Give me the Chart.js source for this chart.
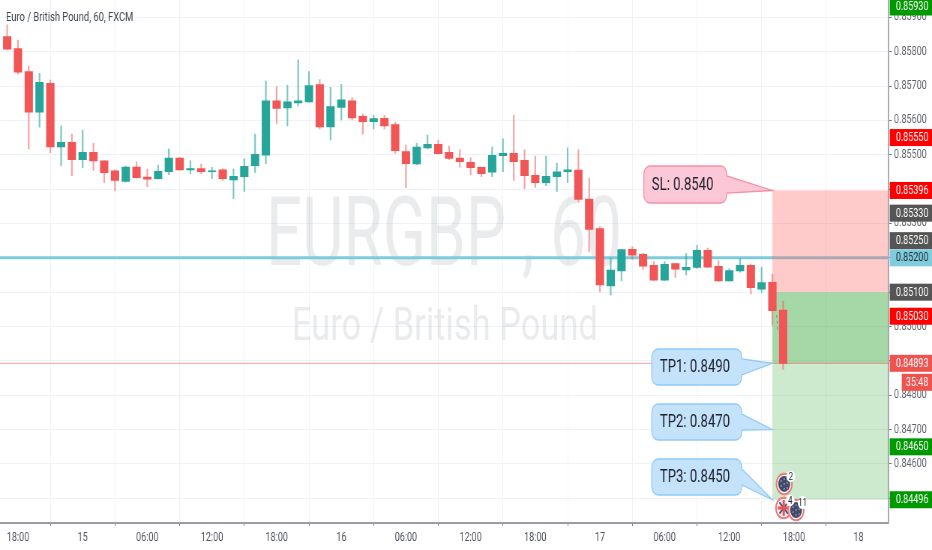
<!DOCTYPE html>
<html>
<head>
<meta charset="utf-8">
<style>
html,body{margin:0;padding:0;background:#fff;overflow:hidden}
#wrap{width:932px;height:550px;overflow:hidden;position:relative}
canvas{position:absolute;left:0;top:0;transform-origin:0 0;filter:blur(0.3px)}
</style>
<script src="https://cdn.jsdelivr.net/npm/chart.js@4"></script>
</head>
<body>
<div id="wrap"><canvas id="c"></canvas></div>
<script>
// ---- candle data ----
const opens = [.85844,.85809,.85742,.85624,.85708,.85523,.85536,.85486,.85507,.85482,.85453,.85422,.85464,.85435,.85430,.85451,.85490,.85456,.85460,.85451,.85456,.85427,.85436,.85468,.85499,.85657,.85636,.85651,.85654,.85704,.85581,.85638,.85657,.85612,.85596,.85606,.85588,.85509,.85473,.85520,.85530,.85507,.85490,.85478,.85463,.85449,.85497,.85504,.85484,.85440,.85419,.85436,.85451,.85455,.85371,.85285,.85118,.85162,.85225,.85210,.85178,.85135,.85183,.85165,.85172,.85222,.85175,.85133,.85162,.85178,.85109,.85129,.85048];
const highs = [.85878,.85834,.85758,.85737,.85717,.85584,.85560,.85572,.85533,.85482,.85456,.85467,.85479,.85458,.85470,.85517,.85492,.85482,.85473,.85463,.85460,.85458,.85488,.85560,.85714,.85698,.85702,.85776,.85742,.85719,.85696,.85705,.85667,.85619,.85615,.85615,.85595,.85528,.85533,.85557,.85543,.85525,.85514,.85491,.85464,.85522,.85546,.85615,.85514,.85496,.85496,.85476,.85520,.85514,.85432,.85291,.85200,.85225,.85232,.85213,.85189,.85189,.85184,.85213,.85236,.85228,.85191,.85169,.85198,.85182,.85172,.85152,.85074];
const lows = [.85805,.85735,.85517,.85580,.85506,.85468,.85439,.85462,.85454,.85419,.85395,.85420,.85432,.85407,.85429,.85442,.85455,.85445,.85445,.85430,.85425,.85372,.85393,.85448,.85474,.85591,.85584,.85642,.85653,.85575,.85543,.85601,.85601,.85560,.85575,.85575,.85504,.85404,.85471,.85517,.85502,.85486,.85464,.85442,.85436,.85436,.85451,.85425,.85401,.85405,.85410,.85393,.85419,.85361,.85218,.85101,.85092,.85133,.85195,.85166,.85134,.85134,.85143,.85150,.85169,.85172,.85132,.85132,.85158,.85095,.85099,.85004,.84875];
const closes = [.85807,.85740,.85624,.85711,.85523,.85536,.85486,.85507,.85482,.85448,.85425,.85464,.85433,.85429,.85452,.85490,.85456,.85460,.85451,.85453,.85430,.85437,.85466,.85501,.85657,.85635,.85654,.85657,.85701,.85581,.85640,.85660,.85607,.85596,.85605,.85584,.85512,.85474,.85522,.85530,.85503,.85489,.85480,.85462,.85445,.85498,.85504,.85480,.85439,.85419,.85437,.85450,.85456,.85370,.85283,.85121,.85164,.85224,.85208,.85176,.85135,.85181,.85167,.85172,.85222,.85173,.85133,.85163,.85178,.85113,.85128,.85046,.84893];

// ---- axes ----
const xTickIndex = [1,7,13,19,25,31,37,43,49,55,61,67,73,79];
const xTickLabels = ['18:00','15','06:00','12:00','18:00','16','06:00','12:00','18:00','17','06:00','12:00','18:00','18'];
const yTickValues = [.859,.858,.857,.856,.855,.854,.853,.852,.851,.850,.849,.848,.847,.846,.845];

// ---- lines, zones, badges, callouts ----
const levelLine = .852;
const lastPrice = .84893;
const zoneStart = 71;
const zoneBounds = [.85396,.851,.84893,.84496];
const badgeValues = [.8593,.8555,.85396,.8533,.8525,.852,.851,.8503,.84893,.8465,.84496];
const badgeColors = ['#009900','#ff0000','#ff0000','#555555','#555555','#80cbdc','#555555','#ff0000','#ef5350','#009900','#009900'];
const countdown = '35:48';
const calloutText = ['SL: 0.8540','TP1: 0.8490','TP2: 0.8470','TP3: 0.8450'];
const calloutPrice = [.85396,.84893,.847,.84496];
const titleText = 'Euro / British Pound, 60, FXCM';
const watermarkBig = 'EURGBP , 60';
const watermarkSmall = 'Euro / British Pound';
const eventPrices = [.84542,.84472,.84466];
const eventIndex = [72.1,72.05,73.2];
const eventCounts = ['2','4','11'];
const dashX = [71.4,71.5];
const dashY = [.85034,.84981];

// ---- layout ----
const S = 0.75, W = Math.round(932/S), H = 550;
const px = v => v/S;
const xMin = -0.668, xMax = 81.8, yMin = .844283, yMax = .859503;
const indices = opens.map((_,i)=>i);
const UP = '#26a69a', DOWN = '#f25555';
const colors = opens.map((o,i)=>closes[i]>=o?UP:DOWN);
const wickColors = opens.map((o,i)=>closes[i]>=o?'rgba(38,166,154,.62)':'rgba(242,85,85,.55)');

function callout(ctx,xs,ys,i,box){
  const ax=xs.getPixelForValue(zoneStart), ay=ys.getPixelForValue(calloutPrice[i]);
  const L=px(box.l),R=px(box.r),T=box.t,B=box.b;
  const pink=i===0;
  ctx.save();
  ctx.fillStyle=pink?'#fcc7d6':'#c5e2fb';
  ctx.strokeStyle=pink?'#f78fa6':'#90caf9';
  ctx.lineWidth=1.3;
  const r=8;
  ctx.beginPath();
  ctx.moveTo(L+r,T);ctx.lineTo(R-r,T);ctx.arcTo(R,T,R,T+r,r);
  ctx.lineTo(R,box.a);ctx.lineTo(ax,ay);ctx.lineTo(R,box.c);
  ctx.lineTo(R,B-r);ctx.arcTo(R,B,R-r,B,r);ctx.lineTo(L+r,B);ctx.arcTo(L,B,L,B-r,r);
  ctx.lineTo(L,T+r);ctx.arcTo(L,T,L+r,T,r);ctx.closePath();
  ctx.fill();ctx.stroke();
  ctx.fillStyle='#1e222d';ctx.font='17.5px Roboto';ctx.textAlign='left';ctx.textBaseline='middle';
  ctx.fillText(calloutText[i],L+px(8),(T+B)/2+1);
  ctx.restore();
}

const overlay = {
  id:'overlay',
  beforeDatasetsDraw(chart){
    const ctx=chart.ctx;
    ctx.save();
    ctx.fillStyle='rgba(130,134,146,.17)';ctx.textAlign='left';ctx.textBaseline='alphabetic';
    ctx.save();ctx.translate(px(266),265);ctx.scale(.885,1);
    ctx.font='96px Roboto';ctx.fillText(watermarkBig,0,0);ctx.restore();
    ctx.font='46px Roboto';ctx.fillText(watermarkSmall,px(292),340);
    ctx.fillStyle='#3f444f';ctx.font='12.5px Roboto';ctx.fillText(titleText,px(6),21);
    ctx.restore();
  },
  afterDatasetDraw(chart,args){
    if(args.index!==0) return;           // zones sit just above the level line
    const ctx=chart.ctx,xs=chart.scales.x,ys=chart.scales.y;
    const l=xs.getPixelForValue(zoneStart),r=xs.right-1;
    const fills=['rgba(255,102,102,.35)','rgba(76,175,80,.5)','rgba(76,175,80,.28)'];
    ctx.save();
    for(let i=0;i<3;i++){
      const t=ys.getPixelForValue(zoneBounds[i]),b=ys.getPixelForValue(zoneBounds[i+1]);
      ctx.fillStyle=fills[i];ctx.fillRect(l,t,r-l,b-t);
    }
    ctx.restore();
  },
  afterDraw(chart){
    const ctx=chart.ctx,xs=chart.scales.x,ys=chart.scales.y;
    const boxes=[
      {l:644,r:727,t:166,b:203,a:176,c:193},
      {l:652,r:742,t:349,b:385,a:359,c:375},
      {l:652,r:742,t:404,b:440,a:414,c:430},
      {l:652,r:742,t:459,b:495,a:469,c:485}
    ];
    boxes.forEach((b,i)=>callout(ctx,xs,ys,i,b));

    // price badges on the axis
    const bx=xs.right+px(1), bw=ctx.canvas.width-bx+4;
    ctx.save();
    ctx.textBaseline='middle';ctx.textAlign='left';ctx.font='12px Roboto';
    badgeValues.forEach((v,i)=>{
      const y=ys.getPixelForValue(v);
      ctx.fillStyle=badgeColors[i];ctx.fillRect(bx,y-8.5,bw,17);
      ctx.fillStyle=badgeColors[i]==='#80cbdc'?'#1e2a38':'#ffffff';
      ctx.fillText(v.toFixed(5),px(896),y+.5);
    });
    const yy=ys.getPixelForValue(lastPrice)+19;
    ctx.fillStyle='#ef5350';ctx.fillRect(px(902),yy-8.5,ctx.canvas.width-px(902)+4,17);
    ctx.fillStyle='#fff';ctx.fillText(countdown,px(906),yy+.5);

    // calendar event markers
    eventPrices.forEach((p,i)=>{
      const x=xs.getPixelForValue(eventIndex[i]),y=ys.getPixelForValue(p);
      ctx.beginPath();ctx.arc(x,y,10.3,0,7);ctx.fillStyle='#fff';ctx.fill();
      ctx.strokeStyle='#ef7778';ctx.lineWidth=2;ctx.stroke();
      ctx.save();ctx.beginPath();ctx.arc(x,y,8,0,7);ctx.clip();
      if(eventCounts[i]==='4'){
        ctx.fillStyle='#e8e8f0';ctx.fillRect(x-9,y-9,18,18);
        ctx.strokeStyle='#47507a';ctx.lineWidth=2;
        ctx.beginPath();ctx.moveTo(x-9,y-9);ctx.lineTo(x+9,y+9);ctx.moveTo(x+9,y-9);ctx.lineTo(x-9,y+9);ctx.stroke();
        ctx.strokeStyle='#ef5350';ctx.lineWidth=3;
        ctx.beginPath();ctx.moveTo(x-9,y);ctx.lineTo(x+9,y);ctx.moveTo(x,y-9);ctx.lineTo(x,y+9);ctx.stroke();
      }else{
        ctx.fillStyle='#414a6b';ctx.fillRect(x-9,y-9,18,18);
        ctx.fillStyle='rgba(255,255,255,.55)';
        for(const [dx,dy] of [[-4,-3],[0,-5],[-4,2],[0,0],[4,-1],[0,5],[4,4]]){
          ctx.beginPath();ctx.arc(x+dx,y+dy,.9,0,7);ctx.fill();
        }
      }
      ctx.restore();
    });
    ctx.font='10.5px Roboto';ctx.textAlign='center';
    eventCounts.forEach((n,i)=>{
      const x=xs.getPixelForValue(eventIndex[i])+px(6.5),y=ys.getPixelForValue(eventPrices[i])-7.5;
      ctx.beginPath();ctx.arc(x,y,i===2?6.5:5.8,0,7);ctx.fillStyle='#fff';ctx.fill();
      ctx.fillStyle='#1e222d';ctx.fillText(n,x,y+.5);
    });
    ctx.restore();
  }
};

function noPad(s){s.paddingTop=0;s.paddingBottom=0;s.paddingLeft=0;s.paddingRight=0;}

const cv=document.getElementById('c');
cv.width=W;cv.height=H;
new Chart(cv,{
  data:{
    labels:indices,
    datasets:[
      {type:'line',order:10,data:[{x:xMin,y:levelLine},{x:xMax,y:levelLine}],borderColor:'#7ecbdb',borderWidth:3,pointRadius:0},
      {type:'line',order:9,data:[{x:xMin,y:lastPrice},{x:xMax,y:lastPrice}],borderColor:'rgba(239,83,80,.55)',borderWidth:1,pointRadius:0},
      {type:'bar',order:5,data:indices.map(i=>({x:i,y:[lows[i],highs[i]]})),backgroundColor:wickColors,barThickness:1.5,grouped:false,borderWidth:0},
      {type:'bar',order:4,data:indices.map(i=>({x:i,y:[opens[i],closes[i]]})),backgroundColor:colors,barThickness:10.4,grouped:false,borderWidth:0},
      {type:'line',order:3,data:dashX.map((x,i)=>({x,y:dashY[i]})),borderColor:'#787b86',borderWidth:1,borderDash:[3,3],pointRadius:0}
    ]
  },
  options:{
    responsive:false,animation:false,devicePixelRatio:1,
    layout:{padding:0},
    plugins:{legend:{display:false},title:{display:false},tooltip:{enabled:false}},
    scales:{
      x:{type:'linear',min:xMin,max:xMax,offset:false,
        afterBuildTicks:s=>{s.ticks=xTickIndex.map(v=>({value:v}));},
        afterFit:s=>{s.height=27;noPad(s);},
        border:{color:'#9a9da6',width:2},
        grid:{color:'#eff3f7',lineWidth:1,tickLength:3,tickColor:'#787b86',drawTicks:true},
        ticks:{autoSkip:false,maxRotation:0,minRotation:0,color:'#50535e',font:{family:'Roboto',size:12},padding:5,
          callback:v=>{const i=xTickIndex.indexOf(v);return i<0?'':xTickLabels[i];}}
      },
      y:{type:'linear',position:'right',min:yMin,max:yMax,
        afterBuildTicks:s=>{s.ticks=yTickValues.map(v=>({value:v}));},
        afterFit:s=>{s.width=W-px(889);noPad(s);},
        border:{color:'#a8abb3',width:2},
        grid:{color:'#eff3f7',lineWidth:1,tickLength:4,tickColor:'#787b86'},
        ticks:{autoSkip:false,color:'#60636e',font:{family:'Roboto',size:12},padding:3,
          callback:v=>Number(v).toFixed(5)}
      }
    }
  },
  plugins:[overlay]
});
// the reference is a horizontally squeezed screenshot, so squeeze the finished canvas too
cv.style.transform='scaleX('+(932/W)+')';
</script>
</body>
</html>
